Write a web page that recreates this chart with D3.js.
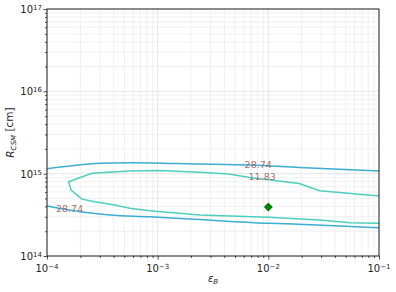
<!DOCTYPE html>
<html>
<head>
<meta charset="utf-8">
<script src="https://cdn.jsdelivr.net/npm/d3@7"></script>
<style>
  body { margin: 0; background: #fff; }
  text { font-family: "DejaVu Sans", sans-serif; }
</style>
</head>
<body>
<div id="chart"></div>
<script>
// contour 28.74 (outer), two open branches
var outerUpperX = [1e-4, 1.6e-4, 3.0e-4, 5.6e-4, 2.4e-3, 6.8e-3, 1.9e-2, 0.1];
var outerUpperY = [1.15e15, 1.24e15, 1.34e15, 1.36e15, 1.31e15, 1.27e15, 1.19e15, 1.08e15];
var outerLowerX = [1e-4, 2.0e-4, 3.7e-4, 8.5e-4, 2.4e-3, 1e-2, 1.9e-2, 0.1];
var outerLowerY = [4.05e14, 3.45e14, 3.15e14, 3.0e14, 2.77e14, 2.5e14, 2.43e14, 2.21e14];

// contour 11.83 (inner), closed on the left
var innerX = [0.1, 2.9e-2, 1.9e-2, 6.8e-3, 4.4e-3, 2.4e-3, 1.05e-3, 5.6e-4, 2.55e-4, 2.0e-4, 1.57e-4,
              1.65e-4, 2.07e-4, 2.7e-4, 4.1e-4, 5.6e-4, 8.5e-4, 2.4e-3, 1e-2, 2.9e-2, 5.5e-2, 0.1];
var innerY = [5.35e14, 6.2e14, 7.6e14, 9.0e14, 9.9e14, 1.04e15, 1.09e15, 1.08e15, 1.01e15, 9.0e14, 7.98e14,
              6.3e14, 4.9e14, 4.57e14, 4.17e14, 3.8e14, 3.55e14, 3.15e14, 2.95e14, 2.74e14, 2.54e14, 2.5e14];

var labelText = ["28.74", "28.74", "11.83"];
var labelX = [1.6e-4, 8.1e-3, 8.8e-3];
var labelY = [3.8e14, 1.28e15, 9.1e14];

var pointX = [1e-2];
var pointY = [3.93e14];

var xTicks = [1e-4, 1e-3, 1e-2, 1e-1];
var yTicks = [1e14, 1e15, 1e16, 1e17];

var margin = {top: 9, right: 17, bottom: 36, left: 47};
var width = 396 - margin.left - margin.right;
var height = 292 - margin.top - margin.bottom;

var svg = d3.select("#chart")
    .append("svg")
    .attr("width", 396)
    .attr("height", 292)

var g = svg.append("g")
    .attr("transform", "translate(" + margin.left + "," + margin.top + ")");

var x = d3.scaleLog().domain([1e-4, 1e-1]).range([0, width]);
var y = d3.scaleLog().domain([1e14, 1e17]).range([height, 0]);

// minor ticks 2..9 of every decade
var minorX = [], minorY = [];
[-4, -3, -2].forEach(function(e) {
  for (var k = 2; k < 10; k++) minorX.push(k * Math.pow(10, e));
});
[14, 15, 16].forEach(function(e) {
  for (var k = 2; k < 10; k++) minorY.push(k * Math.pow(10, e));
});

// grid
g.append("g").selectAll("line").data(minorX).enter().append("line")
    .attr("x1", function(d){ return x(d); }).attr("x2", function(d){ return x(d); })
    .attr("y1", 0).attr("y2", height)
    .style("stroke", "#ececec").style("stroke-width", 0.8);
g.append("g").selectAll("line").data(minorY).enter().append("line")
    .attr("y1", function(d){ return y(d); }).attr("y2", function(d){ return y(d); })
    .attr("x1", 0).attr("x2", width)
    .style("stroke", "#ececec").style("stroke-width", 0.8);
g.append("g").selectAll("line").data(xTicks).enter().append("line")
    .attr("x1", function(d){ return x(d); }).attr("x2", function(d){ return x(d); })
    .attr("y1", 0).attr("y2", height)
    .style("stroke", "#e0e0e0").style("stroke-width", 0.8);
g.append("g").selectAll("line").data(yTicks).enter().append("line")
    .attr("y1", function(d){ return y(d); }).attr("y2", function(d){ return y(d); })
    .attr("x1", 0).attr("x2", width)
    .style("stroke", "#e0e0e0").style("stroke-width", 0.8);

var line = d3.line()
    .curve(d3.curveMonotoneX)
    .x(function(d){ return x(d[0]); })
    .y(function(d){ return y(d[1]); });
var lineClosed = d3.line()
    .x(function(d){ return x(d[0]); })
    .y(function(d){ return y(d[1]); });

function pairs(xs, ys) { return xs.map(function(v, i){ return [v, ys[i]]; }); }

g.append("path").datum(pairs(outerUpperX, outerUpperY)).attr("d", line)
    .style("fill", "none").style("stroke", "#3aaed3").style("stroke-width", 1.5);
g.append("path").datum(pairs(outerLowerX, outerLowerY)).attr("d", line)
    .style("fill", "none").style("stroke", "#3aaed3").style("stroke-width", 1.5);
g.append("path").datum(pairs(innerX, innerY)).attr("d", lineClosed)
    .style("fill", "none").style("stroke", "#4ccfc0").style("stroke-width", 1.5);

// contour labels
g.append("g").selectAll("text").data(labelText).enter().append("text")
    .attr("x", function(d, i){ return x(labelX[i]); })
    .attr("y", function(d, i){ return y(labelY[i]); })
    .attr("text-anchor", "middle")
    .attr("dy", "0.35em")
    .style("font-size", "9.5px")
    .style("fill", "#a0524a")
    .style("fill-opacity", 0.85)
    .text(function(d){ return d; });

// best-fit point (matplotlib "D" marker: square turned 45 degrees)
g.append("g").selectAll("path").data(pointX).enter().append("path")
    .attr("d", d3.symbol().type(d3.symbolSquare).size(40))
    .attr("transform", function(d, i){ return "translate(" + x(d) + "," + y(pointY[i]) + ") rotate(45)"; })
    .style("fill", "#008000");

// axes
function sup(e) {
  var map = {"-": "\u2212"};
  return String(e).split("").map(function(c){ return map[c] || c; }).join("");
}

g.append("g").attr("transform", "translate(0," + height + ")")
    .call(d3.axisBottom(x).tickValues(xTicks).tickSize(3.5).tickFormat(""));
g.append("g").attr("transform", "translate(0," + height + ")")
    .call(d3.axisBottom(x).tickValues(minorX).tickSize(2).tickFormat(""));
g.append("g")
    .call(d3.axisLeft(y).tickValues(yTicks).tickSize(3.5).tickFormat(""));
g.append("g")
    .call(d3.axisLeft(y).tickValues(minorY).tickSize(2).tickFormat(""));

g.selectAll(".domain").remove();
g.selectAll(".tick line").style("stroke", "#222").style("stroke-width", 0.8);

// tick labels with superscripts
xTicks.forEach(function(v) {
  var t = g.append("text")
    .attr("x", x(v))
    .attr("y", height + 16)
    .attr("text-anchor", "middle")
    .style("font-size", "10px")
    .style("fill", "#222");
  t.append("tspan").text("10");
  t.append("tspan").attr("dy", "-0.45em").style("font-size", "7px")
    .text(sup(Math.round(Math.log10(v))));
});
yTicks.forEach(function(v) {
  var t = g.append("text")
    .attr("x", -5)
    .attr("y", y(v) + 4)
    .attr("text-anchor", "end")
    .style("font-size", "10px")
    .style("fill", "#222");
  t.append("tspan").text("10");
  t.append("tspan").attr("dy", "-0.45em").style("font-size", "7px")
    .text(sup(Math.round(Math.log10(v))));
});

// frame
g.append("rect")
    .attr("width", width).attr("height", height)
    .style("fill", "none").style("stroke", "#222").style("stroke-width", 1);

// axis titles
var xl = svg.append("text")
    .attr("x", margin.left + width / 2)
    .attr("y", 282)
    .attr("text-anchor", "middle")
    .style("font-size", "10px")
    .style("fill", "#222");
xl.append("tspan").style("font-style", "italic").text("\u03b5");
xl.append("tspan").attr("dy", "0.3em").style("font-size", "7px").style("font-style", "italic").text("B");

var yl = svg.append("text")
    .attr("transform", "translate(14," + (margin.top + height / 2) + ") rotate(-90)")
    .attr("text-anchor", "middle")
    .style("font-size", "10.5px")
    .style("fill", "#222");
yl.append("tspan").style("font-style", "italic").text("R");
yl.append("tspan").attr("dy", "0.3em").style("font-size", "7px").style("font-style", "italic").text("CSM");
yl.append("tspan").attr("dy", "-0.3em").text(" [cm]");
</script>
</body>
</html>
